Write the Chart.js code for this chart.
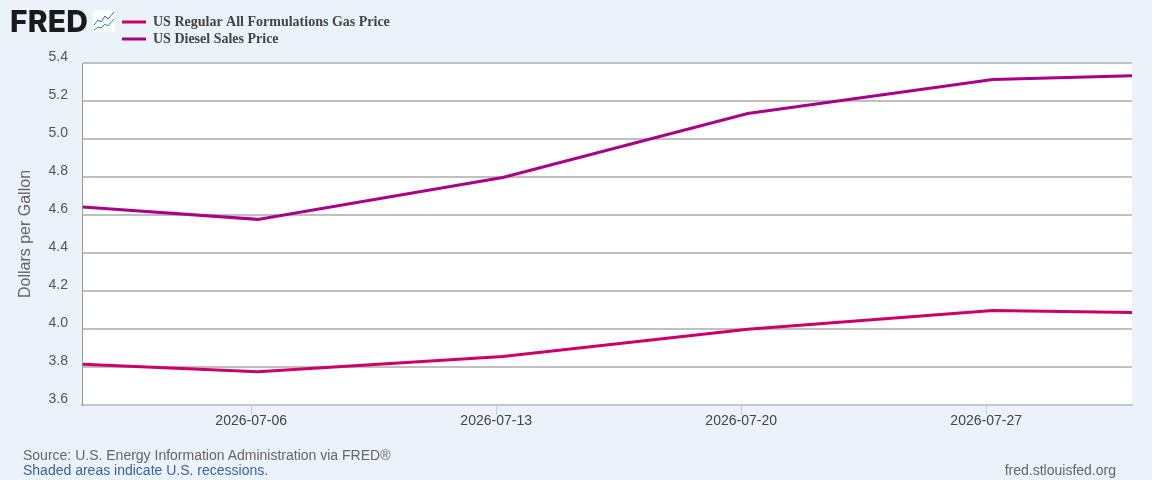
<!DOCTYPE html>
<html><head><meta charset="utf-8">
<style>
html,body{margin:0;padding:0;background:#eaf2fa;width:1152px;height:480px;overflow:hidden}
#wrap{position:relative;width:1152px;height:480px}
canvas{position:absolute;left:0;top:0}
.t{position:absolute;white-space:nowrap;font-family:"Liberation Sans",Arial,sans-serif;font-size:14px;line-height:16px}
#logo{position:absolute;left:10px;top:3px;font-family:Inter,"Liberation Sans",sans-serif;font-weight:800;font-size:30px;line-height:36px;color:#1a1a1a;letter-spacing:0.2px}
#icon{position:absolute;left:93px;top:10px}
</style></head><body>
<div id="wrap">
<canvas id="c" width="1152" height="480"></canvas>
<div id="logo">FRED</div>
<svg id="icon" width="22" height="22" viewBox="0 0 22 22"><rect width="22" height="22" rx="2" fill="#fff"/><polyline points="1,15 5,10 8,12 12,6 15,9 21,2" fill="none" stroke="#1f6fd0" stroke-width="1"/><polyline points="1,20 5,17 8,18 12,14 15,16 21,9" fill="none" stroke="#1c9a8a" stroke-width="1"/></svg>
<div class="t" style="left:23px;top:447px;color:#666">Source: U.S. Energy Information Administration via FRED®</div>
<div class="t" style="left:23px;top:462px;color:#3a62a0">Shaded areas indicate U.S. recessions.</div>
<div class="t" style="right:36px;top:462px;color:#666">fred.stlouisfed.org</div>
</div>
<script src="https://cdn.jsdelivr.net/npm/chart.js@4"></script>
<script>
const dates = ["2026-07-01","2026-07-06","2026-07-13","2026-07-20","2026-07-27","2026-07-31"];
const gasPrice = [3.815,3.775,3.855,3.999,4.098,4.087];
const dieselPrice = [4.642,4.577,4.797,5.134,5.313,5.333];
const seriesNames = ["US Regular All Formulations Gas Price","US Diesel Sales Price"];
const yTicks = [3.6,3.8,4.0,4.2,4.4,4.6,4.8,5.0,5.2,5.4];
const xTickDates = ["2026-07-06","2026-07-13","2026-07-20","2026-07-27"];
const yTitle = "Dollars per Gallon";
const hourOffset = 4.5*3600e3;
const ms = d => Date.parse(d+"T00:00:00Z");
const pts = vals => dates.map((d,i)=>({x:ms(d)+hourOffset,y:vals[i]}));
const place = {id:"place",beforeDraw(c){
  const a=c.chartArea,g=c.ctx;
  g.save();g.fillStyle="#fff";g.fillRect(a.left,a.top,a.right-a.left,a.bottom-a.top);g.restore();
  if(c.legend){c.legend.left=119;c.legend.top=12;}
}};
new Chart(document.getElementById("c"),{
 type:"line",
 plugins:[place],
 data:{datasets:[
  {label:seriesNames[0],data:pts(gasPrice),borderColor:"#cc0066",backgroundColor:"#cc0066",borderWidth:3,pointRadius:0,tension:0},
  {label:seriesNames[1],data:pts(dieselPrice),borderColor:"#aa0088",backgroundColor:"#aa0088",borderWidth:3,pointRadius:0,tension:0}
 ]},
 options:{
  responsive:false,animation:false,devicePixelRatio:1,
  layout:{padding:{left:0,right:20,top:63,bottom:0}},
  plugins:{
   tooltip:{enabled:false},
   legend:{position:"chartArea",align:"start",labels:{boxWidth:24,boxHeight:3,padding:3,color:"#444",font:{family:"Liberation Serif",weight:"bold",size:14},
     generateLabels(c){return Chart.defaults.plugins.legend.labels.generateLabels(c).map(l=>({...l,lineWidth:0}));}}}
  },
  scales:{
   x:{type:"linear",min:ms("2026-07-01")+4*3600e3,max:ms("2026-07-31")+4*3600e3,
    afterBuildTicks(s){s.ticks=xTickDates.map(d=>({value:ms(d)}));},
    afterFit(s){s.height=75;},
    ticks:{autoSkip:false,maxRotation:0,padding:-2,color:"#444",font:{family:"Liberation Sans",size:14},
     callback:v=>new Date(v).toISOString().slice(0,10)},
    grid:{drawOnChartArea:false,drawTicks:true,tickLength:10,tickColor:"#c0d0e0",tickWidth:1},
    border:{color:"#c0c8d8",width:2}},
   y:{min:3.6,max:5.4,
    afterBuildTicks(s){s.ticks=yTicks.map(v=>({value:v}));},
    afterFit(s){s.width=82;},
    title:{display:true,text:yTitle,color:"#666",font:{family:"Liberation Sans",size:16},padding:{top:16,bottom:0}},
    ticks:{color:"#555",padding:14,labelOffset:-6,font:{family:"Liberation Sans",size:14},callback:v=>v.toFixed(1)},
    grid:{color:"#c0c0c0",lineWidth:2,drawTicks:false},
    border:{color:"#999",width:1}}
  }
 }
});
</script>
</body></html>
